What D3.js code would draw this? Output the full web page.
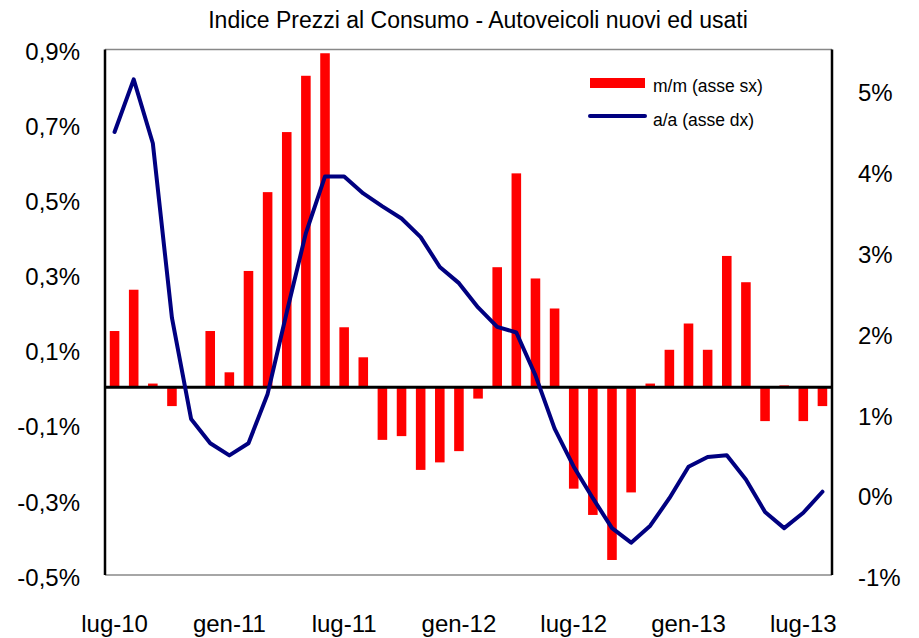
<!DOCTYPE html>
<html>
<head>
<meta charset="utf-8">
<script src="https://cdn.jsdelivr.net/npm/d3@7"></script>
<style>
  body { margin: 0; background: #fff; }
  text { font-family: "Liberation Sans", Arial, sans-serif; fill: #000; }
</style>
</head>
<body>
<script>
// mesi da lug-10 a ago-13
var months = ["lug-10","ago-10","set-10","ott-10","nov-10","dic-10",
  "gen-11","feb-11","mar-11","apr-11","mag-11","giu-11",
  "lug-11","ago-11","set-11","ott-11","nov-11","dic-11",
  "gen-12","feb-12","mar-12","apr-12","mag-12","giu-12",
  "lug-12","ago-12","set-12","ott-12","nov-12","dic-12",
  "gen-13","feb-13","mar-13","apr-13","mag-13","giu-13",
  "lug-13","ago-13"];

// variazione m/m (asse sx, %)
var mm = [0.15, 0.26, 0.01, -0.05, 0.00, 0.15, 0.04, 0.31, 0.52, 0.68, 0.83, 0.89,
  0.16, 0.08, -0.14, -0.13, -0.22, -0.20, -0.17, -0.03, 0.32, 0.57, 0.29, 0.21,
  -0.27, -0.34, -0.46, -0.28, 0.01, 0.10, 0.17, 0.10, 0.35, 0.28, -0.09, 0.005,
  -0.09, -0.05];

// variazione a/a (asse dx, %)
var aa = [4.48, 5.13, 4.34, 2.18, 0.93, 0.63, 0.48, 0.63, 1.24, 2.25, 3.23, 3.93,
  3.93, 3.72, 3.56, 3.41, 3.18, 2.81, 2.61, 2.31, 2.07, 2.00, 1.47, 0.81,
  0.34, -0.05, -0.42, -0.60, -0.39, -0.05, 0.34, 0.46, 0.48, 0.18, -0.22, -0.42,
  -0.23, 0.03];

var leftTicks = [-0.5, -0.3, -0.1, 0.1, 0.3, 0.5, 0.7, 0.9];
var rightTicks = [-1, 0, 1, 2, 3, 4, 5];
var xLabels = ["lug-10","gen-11","lug-11","gen-12","lug-12","gen-13","lug-13"];

var W = 919, H = 638;
var pLeft = 105, pRight = 832, pTop = 49.5, pBottom = 575;

var svg = d3.select("body")
  .append("svg")
  .attr("width", W)
  .attr("height", H);

var x = d3.scaleBand()
  .domain(months)
  .range([pLeft, pRight])
  .paddingInner(0.5)
  .paddingOuter(0.25);

var yL = d3.scaleLinear().domain([-0.5, 0.9]).range([pBottom, pTop]);
var yR = d3.scaleLinear().domain([-1, 5.5]).range([pBottom, pTop]);

function fmtL(d) {
  return (d < 0 ? "-" : "") + Math.abs(d).toFixed(1).replace(".", ",") + "%";
}
function fmtR(d) {
  return (d < 0 ? "-" : "") + Math.abs(d) + "%";
}

// barre m/m
svg.append("g")
  .selectAll("rect")
  .data(mm)
  .enter()
  .append("rect")
  .attr("x", function(d, i) { return x(months[i]); })
  .attr("width", x.bandwidth())
  .attr("y", function(d) { return yL(Math.max(d, 0)); })
  .attr("height", function(d) { return Math.abs(yL(d) - yL(0)); })
  .attr("fill", "#ff0000");

// cornice
svg.append("line")
  .attr("x1", pLeft).attr("x2", pRight)
  .attr("y1", pTop).attr("y2", pTop)
  .attr("stroke", "#888").attr("stroke-width", 1.5);
svg.append("line")
  .attr("x1", pLeft).attr("x2", pRight)
  .attr("y1", pBottom).attr("y2", pBottom)
  .attr("stroke", "#888").attr("stroke-width", 1.5);
svg.append("line")
  .attr("x1", pLeft).attr("x2", pLeft)
  .attr("y1", pTop).attr("y2", pBottom)
  .attr("stroke", "#000").attr("stroke-width", 2.5);
svg.append("line")
  .attr("x1", pRight).attr("x2", pRight)
  .attr("y1", pTop).attr("y2", pBottom)
  .attr("stroke", "#000").attr("stroke-width", 2.5);

// linea dello zero
svg.append("line")
  .attr("x1", pLeft).attr("x2", pRight)
  .attr("y1", yL(0)).attr("y2", yL(0))
  .attr("stroke", "#000").attr("stroke-width", 3);

// linea a/a
var line = d3.line()
  .x(function(d, i) { return x(months[i]) + x.bandwidth() / 2; })
  .y(function(d) { return yR(d); });

svg.append("path")
  .attr("d", line(aa))
  .attr("fill", "none")
  .attr("stroke", "#000080")
  .attr("stroke-width", 4)
  .attr("stroke-linejoin", "round")
  .attr("stroke-linecap", "round");

// assi
var axL = svg.append("g")
  .attr("transform", "translate(" + pLeft + ",0)")
  .call(d3.axisLeft(yL).tickValues(leftTicks).tickSize(0).tickPadding(25).tickFormat(fmtL));
var axR = svg.append("g")
  .attr("transform", "translate(" + pRight + ",0)")
  .call(d3.axisRight(yR).tickValues(rightTicks).tickSize(0).tickPadding(26).tickFormat(fmtR));
var axX = svg.append("g")
  .attr("transform", "translate(0," + pBottom + ")")
  .call(d3.axisBottom(x).tickValues(xLabels).tickSize(0).tickPadding(40));

[axL, axR, axX].forEach(function(g) {
  g.select(".domain").remove();
  g.selectAll("text")
    .style("font-family", "'Liberation Sans', Arial, sans-serif")
    .style("font-size", "24px")
    .attr("fill", "#000");
});
axL.selectAll("text").attr("dy", "0.42em");
axR.selectAll("text").attr("dy", "0.45em");

// titolo
svg.append("text")
  .attr("x", 478)
  .attr("y", 28)
  .style("text-anchor", "middle")
  .style("font-size", "23px")
  .text("Indice Prezzi al Consumo - Autoveicoli nuovi ed usati");

// legenda
svg.append("rect")
  .attr("x", 590).attr("y", 78)
  .attr("width", 55).attr("height", 10)
  .attr("fill", "#ff0000");
svg.append("text")
  .attr("x", 653).attr("y", 92)
  .style("font-size", "17.5px")
  .text("m/m (asse sx)");
svg.append("line")
  .attr("x1", 590).attr("x2", 645)
  .attr("y1", 116).attr("y2", 116)
  .attr("stroke", "#000080")
  .attr("stroke-width", 4)
  .attr("stroke-linecap", "round");
svg.append("text")
  .attr("x", 653).attr("y", 126)
  .style("font-size", "17.5px")
  .text("a/a (asse dx)");
</script>
</body>
</html>
